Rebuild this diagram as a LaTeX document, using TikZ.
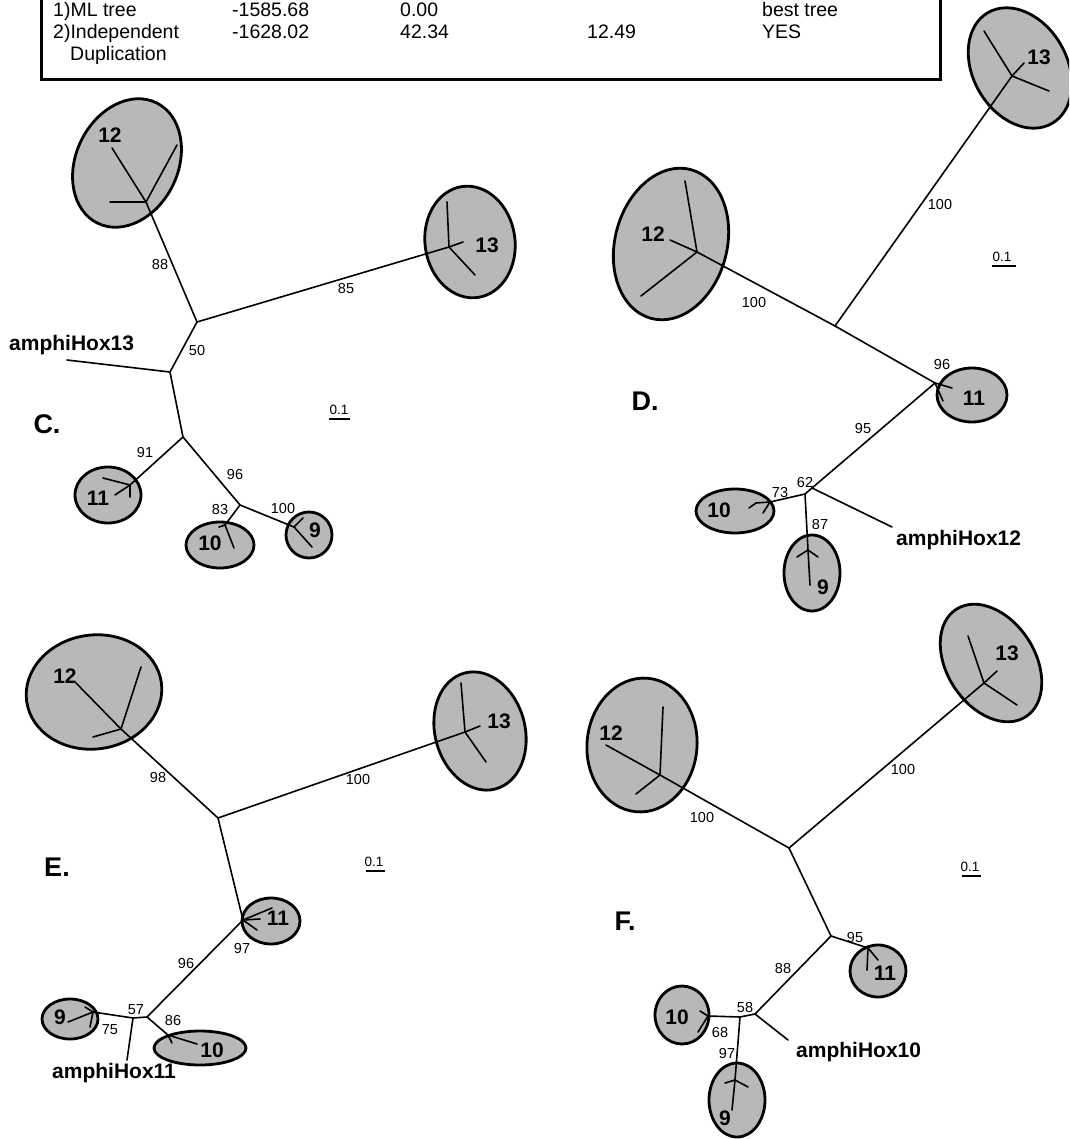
\documentclass[tikz,border=0pt]{standalone}
\usepackage{fontspec}
\setmainfont{Liberation Sans}
\usetikzlibrary{shapes.geometric}
\begin{document}
\begin{tikzpicture}[x=1pt,y=-1pt,
  branch/.style={line width=1.6pt, line cap=round, line join=round},
  clade/.style={ellipse, draw, line width=2.8pt, fill=black!28, inner sep=0pt},
  bs/.style={font=\fontsize{14.5}{15}\selectfont, inner sep=0pt},
  cl/.style={font=\bfseries\fontsize{21}{22}\selectfont, inner sep=0pt},
  amph/.style={font=\bfseries\fontsize{21}{22}\selectfont, inner sep=0pt, anchor=west},
  panel/.style={font=\bfseries\fontsize{27}{28}\selectfont, inner sep=0pt},
  hdr/.style={font=\fontsize{19.5}{20}\selectfont, inner sep=0pt, anchor=base west},
  sc/.style={font=\fontsize{13.5}{14}\selectfont, inner sep=0pt},
  scbar/.style={line width=1.4pt}]
\useasboundingbox (0,0) rectangle (1069,1139);
\clip (0,0) rectangle (1069,1139);

% ---------------- header box ----------------
\coordinate (hbTL) at (41,-5);
\coordinate (hbBR) at (940,80);
\coordinate (hbTR) at (940,-5);
\draw[line width=3pt] (hbTL) |- (hbBR) -- (hbTR);
\node[hdr] (h11) at (53,17) {1)ML tree};
\node[hdr] (h12) at (232,17) {-1585.68};
\node[hdr] (h13) at (400,17) {0.00};
\node[hdr] (h15) at (762,17) {best tree};
\node[hdr] (h21) at (53,39) {2)Independent};
\node[hdr] (h22) at (232,39) {-1628.02};
\node[hdr] (h23) at (400,39) {42.34};
\node[hdr] (h24) at (587,39) {12.49};
\node[hdr] (h25) at (762,39) {YES};
\node[hdr] (h31) at (70,61) {Duplication};

% ---------------- ellipses ----------------
% C
\node[clade, minimum width=102, minimum height=134, rotate=-26] (eC12) at (127,163) {};
\node[clade, minimum width=90, minimum height=112, rotate=8] (eC13) at (470,242) {};
\node[clade, minimum width=66, minimum height=56] (eC11) at (108,495) {};
\node[clade, minimum width=68, minimum height=46] (eC10) at (220,545) {};
\node[clade, minimum width=46, minimum height=46] (eC9) at (309,535) {};
% D
\node[clade, minimum width=94, minimum height=128, rotate=30] (eD13) at (1020,68) {};
\node[clade, minimum width=112, minimum height=154, rotate=-15] (eD12) at (671,244) {};
\node[clade, minimum width=70, minimum height=54] (eD11) at (972,395) {};
\node[clade, minimum width=78, minimum height=44] (eD10) at (735,511) {};
\node[clade, minimum width=56, minimum height=76] (eD9) at (812,573) {};
% E
\node[clade, minimum width=136, minimum height=114, rotate=8] (eE12) at (94,692) {};
\node[clade, minimum width=90, minimum height=120, rotate=15] (eE13) at (480,731) {};
\node[clade, minimum width=58, minimum height=46] (eE11) at (271,921) {};
\node[clade, minimum width=56, minimum height=40] (eE9) at (70,1019) {};
\node[clade, minimum width=92, minimum height=34] (eE10) at (200,1048) {};
% F
\node[clade, minimum width=110, minimum height=134, rotate=-5] (eF12) at (642,745) {};
\node[clade, minimum width=88, minimum height=128, rotate=33] (eF13) at (991,663) {};
\node[clade, minimum width=56, minimum height=52] (eF11) at (878,971) {};
\node[clade, minimum width=54, minimum height=58] (eF10) at (682,1015) {};
\node[clade, minimum width=56, minimum height=74] (eF9) at (737,1100) {};

% ---------------- panel C tree ----------------
\coordinate (c12n) at (146,202); \coordinate (c12a) at (112,148);
\coordinate (c12b) at (177,145); \coordinate (c12c) at (110,202);
\coordinate (cB) at (197,322);
\coordinate (c13n) at (449,247); \coordinate (c13a) at (447,202);
\coordinate (c13b) at (463,242); \coordinate (c13c) at (475,275);
\coordinate (cA) at (170,372); \coordinate (cAm) at (67,360);
\coordinate (cC) at (183,437);
\coordinate (c11n) at (130,485); \coordinate (c11a) at (103,478);
\coordinate (c11b) at (130,497); \coordinate (c11c) at (115,495);
\coordinate (cD) at (240,505);
\coordinate (c10n) at (225,525); \coordinate (c10a) at (234,548); \coordinate (c10b) at (219,527);
\coordinate (c9n) at (294,527); \coordinate (c9a) at (303,518); \coordinate (c9b) at (312,547);
\draw[branch] (c12n) -- (c12a); \draw[branch] (c12n) -- (c12b); \draw[branch] (c12n) -- (c12c);
\draw[branch] (c12n) -- (cB); \draw[branch] (cB) -- (c13n);
\draw[branch] (c13n) -- (c13a); \draw[branch] (c13n) -- (c13b); \draw[branch] (c13n) -- (c13c);
\draw[branch] (cB) -- (cA); \draw[branch] (cA) -- (cAm); \draw[branch] (cA) -- (cC);
\draw[branch] (cC) -- (c11n);
\draw[branch] (c11n) -- (c11a); \draw[branch] (c11n) -- (c11b); \draw[branch] (c11n) -- (c11c);
\draw[branch] (cC) -- (cD); \draw[branch] (cD) -- (c10n);
\draw[branch] (c10n) -- (c10a); \draw[branch] (c10n) -- (c10b);
\draw[branch] (cD) -- (c9n); \draw[branch] (c9n) -- (c9a); \draw[branch] (c9n) -- (c9b);
\node[cl] (lC12) at (110,135) {12};
\node[cl] (lC13) at (487,245) {13};
\node[cl] (lC11) at (98,498) {11};
\node[cl] (lC10) at (210,543) {10};
\node[cl] (lC9) at (315,530) {9};
\node[bs] (bC88) at (160,265) {88};
\node[bs] (bC85) at (346,289) {85};
\node[bs] (bC50) at (197,351) {50};
\node[bs] (bC91) at (145,453) {91};
\node[bs] (bC96) at (235,475) {96};
\node[bs] (bC83) at (220,510) {83};
\node[bs] (bC100) at (283,509) {100};
\node[amph] (aC) at (9,345) {amphiHox13};
\node[panel] (pC) at (47,424) {C.};
\node[sc] (sC) at (339,410) {0.1};
\coordinate (sCa) at (329,419); \coordinate (sCb) at (350,419);
\draw[scbar] (sCa) -- (sCb);

% ---------------- panel D tree ----------------
\coordinate (d13n) at (1012,76); \coordinate (d13a) at (984,31);
\coordinate (d13b) at (1024,63); \coordinate (d13c) at (1049,91);
\coordinate (dM) at (835,326);
\coordinate (d12n) at (697,252); \coordinate (d12a) at (685,181);
\coordinate (d12b) at (670,240); \coordinate (d12c) at (641,296);
\coordinate (dE) at (935,383); \coordinate (d11a) at (952,388); \coordinate (d11b) at (943,401);
\coordinate (d62) at (812,488); \coordinate (d73) at (805,494);
\coordinate (d10n) at (770,502); \coordinate (d10a) at (756,503);
\coordinate (d10b) at (763,513); \coordinate (d10c) at (749,508);
\coordinate (d9n) at (808,550); \coordinate (d9a) at (797,557);
\coordinate (d9b) at (818,557); \coordinate (d9c) at (810,585);
\coordinate (dAm) at (892,527);
\draw[branch] (d13n) -- (d13a); \draw[branch] (d13n) -- (d13b); \draw[branch] (d13n) -- (d13c);
\draw[branch] (d13n) -- (dM);
\draw[branch] (d12n) -- (d12a); \draw[branch] (d12n) -- (d12b); \draw[branch] (d12n) -- (d12c);
\draw[branch] (d12n) -- (dM); \draw[branch] (dM) -- (dE);
\draw[branch] (dE) -- (d11a); \draw[branch] (dE) -- (d11b);
\draw[branch] (dE) -- (d62); \draw[branch] (d62) -- (d73); \draw[branch] (d62) -- (dAm);
\draw[branch] (d73) -- (d10n); \draw[branch] (d10n) -- (d10a); \draw[branch] (d10n) -- (d10b);
\draw[branch] (d10a) -- (d10c);
\draw[branch] (d73) -- (d9n);
\draw[branch] (d9n) -- (d9a); \draw[branch] (d9n) -- (d9b); \draw[branch] (d9n) -- (d9c);
\node[cl] (lD13) at (1039,57) {13};
\node[cl] (lD12) at (653,234) {12};
\node[cl] (lD11) at (974,398) {11};
\node[cl] (lD10) at (719,510) {10};
\node[cl] (lD9) at (823,587) {9};
\node[bs] (bD100a) at (940,205) {100};
\node[bs] (bD100b) at (754,303) {100};
\node[bs] (bD96) at (942,365) {96};
\node[bs] (bD95) at (863,429) {95};
\node[bs] (bD62) at (805,483) {62};
\node[bs] (bD73) at (780,493) {73};
\node[bs] (bD87) at (820,525) {87};
\node[amph] (aD) at (896,540) {amphiHox12};
\node[panel] (pD) at (645,401) {D.};
\node[sc] (sD) at (1002,257) {0.1};
\coordinate (sDa) at (992,266); \coordinate (sDb) at (1016,266);
\draw[scbar] (sDa) -- (sDb);

% ---------------- panel E tree ----------------
\coordinate (e12n) at (121,729); \coordinate (e12a) at (76,683);
\coordinate (e12b) at (141,667); \coordinate (e12c) at (93,737);
\coordinate (eM) at (218,818);
\coordinate (e13n) at (465,732); \coordinate (e13a) at (461,683);
\coordinate (e13b) at (480,726); \coordinate (e13c) at (486,762);
\coordinate (eJ) at (243,920); \coordinate (e11a) at (272,908);
\coordinate (e11b) at (260,919); \coordinate (e11c) at (257,930);
\coordinate (e57) at (147,1017); \coordinate (eNa) at (133,1018);
\coordinate (eAm) at (127,1060);
\coordinate (e9n) at (93,1012); \coordinate (e9a) at (68,1022);
\coordinate (e9b) at (90,1027); \coordinate (e9c) at (85,1007);
\coordinate (e10n) at (168,1035); \coordinate (e10a) at (197,1044); \coordinate (e10b) at (172,1043);
\draw[branch] (e12n) -- (e12a); \draw[branch] (e12n) -- (e12b); \draw[branch] (e12n) -- (e12c);
\draw[branch] (e12n) -- (eM); \draw[branch] (eM) -- (e13n);
\draw[branch] (e13n) -- (e13a); \draw[branch] (e13n) -- (e13b); \draw[branch] (e13n) -- (e13c);
\draw[branch] (eM) -- (eJ);
\draw[branch] (eJ) -- (e11a); \draw[branch] (eJ) -- (e11b); \draw[branch] (eJ) -- (e11c);
\draw[branch] (eJ) -- (e57); \draw[branch] (e57) -- (eNa); \draw[branch] (eNa) -- (eAm);
\draw[branch] (eNa) -- (e9n);
\draw[branch] (e9n) -- (e9a); \draw[branch] (e9n) -- (e9b); \draw[branch] (e9n) -- (e9c);
\draw[branch] (e57) -- (e10n); \draw[branch] (e10n) -- (e10a); \draw[branch] (e10n) -- (e10b);
\node[cl] (lE12) at (65,676) {12};
\node[cl] (lE13) at (499,721) {13};
\node[cl] (lE11) at (278,918) {11};
\node[cl] (lE9) at (60,1017) {9};
\node[cl] (lE10) at (212,1050) {10};
\node[bs] (bE98) at (158,778) {98};
\node[bs] (bE100) at (358,779) {100};
\node[bs] (bE97) at (242,948) {97};
\node[bs] (bE96) at (186,963) {96};
\node[bs] (bE57) at (136,1010) {57};
\node[bs] (bE75) at (110,1030) {75};
\node[bs] (bE86) at (173,1020) {86};
\node[amph] (aE) at (52,1073) {amphiHox11};
\node[panel] (pE) at (57,867) {E.};
\node[sc] (sE) at (374,862) {0.1};
\coordinate (sEa) at (366,871); \coordinate (sEb) at (385,871);
\draw[scbar] (sEa) -- (sEb);

% ---------------- panel F tree ----------------
\coordinate (f12n) at (660,775); \coordinate (f12a) at (663,707);
\coordinate (f12b) at (606,745); \coordinate (f12c) at (636,794);
\coordinate (fM) at (789,848);
\coordinate (f13n) at (984,683); \coordinate (f13a) at (968,636);
\coordinate (f13b) at (997,671); \coordinate (f13c) at (1017,705);
\coordinate (f95) at (831,936);
\coordinate (f11n) at (868,948); \coordinate (f11a) at (878,960); \coordinate (f11b) at (867,970);
\coordinate (f58) at (755,1014); \coordinate (f68) at (740,1017);
\coordinate (f10n) at (708,1016); \coordinate (f10a) at (700,1011); \coordinate (f10b) at (698,1032);
\coordinate (f9n) at (735,1080); \coordinate (f9a) at (725,1083);
\coordinate (f9b) at (748,1087); \coordinate (f9c) at (732,1110);
\coordinate (fAm) at (788,1040);
\draw[branch] (f12n) -- (f12a); \draw[branch] (f12n) -- (f12b); \draw[branch] (f12n) -- (f12c);
\draw[branch] (f12n) -- (fM); \draw[branch] (fM) -- (f13n);
\draw[branch] (f13n) -- (f13a); \draw[branch] (f13n) -- (f13b); \draw[branch] (f13n) -- (f13c);
\draw[branch] (fM) -- (f95); \draw[branch] (f95) -- (f11n);
\draw[branch] (f11n) -- (f11a); \draw[branch] (f11n) -- (f11b);
\draw[branch] (f95) -- (f58); \draw[branch] (f58) -- (f68); \draw[branch] (f58) -- (fAm);
\draw[branch] (f68) -- (f10n); \draw[branch] (f10n) -- (f10a); \draw[branch] (f10n) -- (f10b);
\draw[branch] (f68) -- (f9n);
\draw[branch] (f9n) -- (f9a); \draw[branch] (f9n) -- (f9b); \draw[branch] (f9n) -- (f9c);
\node[cl] (lF12) at (611,733) {12};
\node[cl] (lF13) at (1007,653) {13};
\node[cl] (lF11) at (885,973) {11};
\node[cl] (lF10) at (677,1017) {10};
\node[cl] (lF9) at (725,1118) {9};
\node[bs] (bF100a) at (702,817) {100};
\node[bs] (bF100b) at (903,770) {100};
\node[bs] (bF95) at (855,937) {95};
\node[bs] (bF88) at (783,968) {88};
\node[bs] (bF58) at (745,1007) {58};
\node[bs] (bF68) at (720,1032) {68};
\node[bs] (bF97) at (727,1053) {97};
\node[amph] (aF) at (796,1052) {amphiHox10};
\node[panel] (pF) at (625,921) {F.};
\node[sc] (sF) at (970,867) {0.1};
\coordinate (sFa) at (962,876); \coordinate (sFb) at (981,876);
\draw[scbar] (sFa) -- (sFb);
\end{tikzpicture}
\end{document}
